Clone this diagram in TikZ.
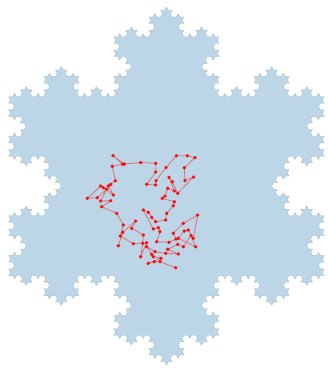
\documentclass[tikz,border=0pt]{standalone}
\usetikzlibrary{lindenmayersystems}
\definecolor{snowfill}{HTML}{BCD6E8}
\definecolor{snowedge}{HTML}{A3BCCE}
\pgfdeclarelindenmayersystem{Koch}{\rule{F -> F-F++F-F}}
\tikzset{
  snow/.style={fill=snowfill,draw=snowedge,line width=0.3pt},
  walk/.style={draw=red,draw opacity=0.45,line width=0.85pt,line join=round}
}
\begin{document}
\begin{tikzpicture}[x=1pt,y=-1pt]
\useasboundingbox (0,0) rectangle (328,368);
\begin{scope}[shift={(166.5,186)},xscale=1.018]
\begin{scope}[shift={(-155.02,89.5)}]
\filldraw[snow] [l-system={Koch, axiom=F++F++F, order=4, step=3.8277pt, angle=60}] lindenmayer system -- cycle;
\end{scope}
\end{scope}
\draw[walk] plot[mark=*, mark size=1.4pt, mark options={draw=none,fill=red,opacity=0.8}] coordinates {
(118.3,245.7) (122.7,232.3) (135.7,221.0) (131.7,228.3) (143.3,235.0) (142.7,243.3)
(140.7,256.7) (146.7,242.7) (133.3,243.7) (120.3,236.0) (123.3,225.0) (116.7,213.3)
(101.7,206.7) (110.7,200.7) (100.7,201.0) (106.7,189.0) (97.3,197.7) (87.3,198.3)
(100.7,186.0) (103.3,187.7) (113.3,195.0) (108.3,186.0) (110.7,184.3) (115.3,180.7)
(112.3,166.3) (122.7,164.3) (113.0,155.7) (124.3,164.0) (140.7,162.5) (155.7,163.3)
(155.7,172.0) (146.7,184.3) (155.7,185.0) (156.0,180.7) (166.0,167.5) (176.3,155.7)
(187.3,155.7) (195.0,157.7) (184.3,167.7) (185.0,180.7) (193.5,177.0) (177.7,193.3)
(172.3,181.7) (169.0,177.3) (174.3,191.0) (167.7,188.3) (165.0,196.0) (162.3,198.3)
(174.3,201.7) (173.3,205.7) (166.7,213.3) (165.7,220.0) (155.7,221.7) (151.7,217.3)
(148.3,212.3) (143.3,210.0) (153.3,229.0) (158.3,227.7) (160.0,231.7) (156.7,241.7)
(169.0,242.3) (176.0,239.0) (173.3,233.3) (183.3,223.3) (197.7,215.0) (193.3,238.3)
(188.3,230.0) (184.3,231.0) (178.3,238.3) (195.7,246.7) (191.0,235.7) (183.3,246.7)
(177.7,244.3) (167.7,249.3) (178.3,254.0) (165.7,253.3) (155.0,251.7) (146.7,246.7)
(151.7,254.3) (153.3,256.7) (161.0,258.3) (148.3,263.3) (154.3,261.7) (160.0,261.7)
(175.7,267.7)
};
\end{tikzpicture}
\end{document}
